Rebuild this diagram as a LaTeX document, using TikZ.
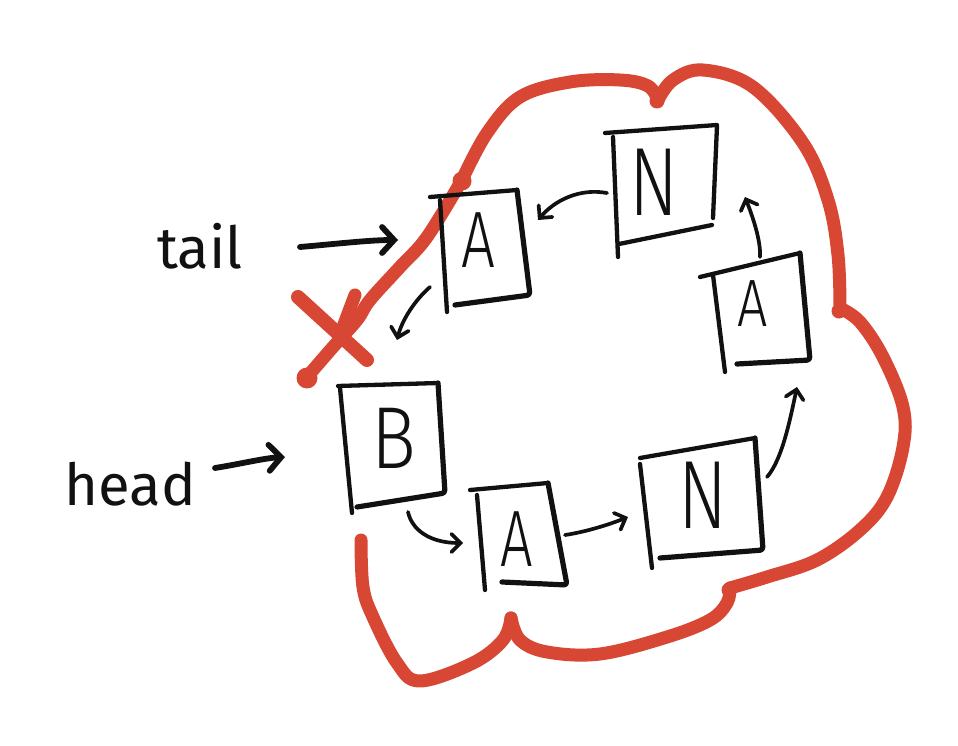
\documentclass[tikz,border=0pt]{standalone}
\usepackage{graphicx}
\usepackage{fontspec}
\newfontfamily\hand{Fira Sans Light}
\newfontfamily\handw{Fira Sans}
\usetikzlibrary{arrows.meta}
\definecolor{pen}{RGB}{216,70,52}
\definecolor{ink}{RGB}{17,17,17}
\tikzset{
  boxl/.style={draw=ink,line width=4.3pt,line cap=round,line join=round},
  boxb/.style={draw=ink,line width=5.2pt,line cap=round,line join=round,rounded corners=3pt},
  link/.style={draw=ink,line width=3.7pt,line cap=round,
    -{Straight Barb[length=9pt,width=18pt,line cap=round]}},
  ptr/.style={draw=ink,line width=5.8pt,line cap=round,
    -{Straight Barb[length=12pt,width=26pt,line cap=round]}},
  redline/.style={draw=pen,line width=13pt,line cap=round,line join=round},
  letter/.style={inner sep=0pt,text=ink,font=\hand},
  word/.style={inner sep=0pt,text=ink,font=\handw\fontsize{58}{58}\selectfont},
}
\begin{document}
\begin{tikzpicture}[x=1pt,y=-1pt]
\useasboundingbox[fill=white] (0,0) rectangle (958,746);

% red cloud
\draw[redline] plot[smooth,tension=0.6] coordinates {(462,180) (487,133) (520,97) (570,82) (620,80) (648,86) (658,100)};
\draw[redline] plot[smooth,tension=0.6] coordinates {(658,100) (673,80) (703,70) (753,87) (803,143) (828,200) (838,255) (840,308)};
\draw[redline] plot[smooth,tension=0.6] coordinates {(840,308) (860,322) (883,357) (903,407) (903,447) (887,497) (860,530) (817,560) (767,577) (730,588)};
\draw[redline] plot[smooth,tension=0.6] coordinates {(730,588) (727,603) (710,620) (667,637) (600,654) (547,652) (520,640) (511,618)};
\draw[redline] plot[smooth,tension=0.6] coordinates {(511,618) (503,640) (473,663) (420,681) (397,663) (373,617) (363,587) (361,540)};
\draw[redline] plot[smooth,tension=0.6] coordinates {(462,180) (427,237) (400,267) (370,300) (357,320) (333,347) (307,377)};
\fill[pen] (462,181) circle (9.5pt);
\fill[pen] (307,378) circle (10.5pt);
\fill[pen] (657,101) circle (7.5pt);
\fill[pen] (839,311) circle (7.5pt);
\fill[pen] (729,590) circle (7.5pt);
% the cross
\draw[redline,line width=14pt] (298,297) -- (367,360);
\draw[redline,line width=13pt] (355,295) -- (340,335);

% boxes
% B
\draw[boxl] (338,386) -- (438,383);
\draw[boxb] (438,383) -- (445,493) -- (357,507);
\draw[boxl] (340,388) -- (352,513);
% A (tail)
\draw[boxl] (430,197) -- (517,190);
\draw[boxb] (517,190) -- (530,295) -- (455,305);
\draw[boxl] (440,200) -- (447,312);
% N (top)
\draw[boxl] (605,133) -- (717,125);
\draw[boxl] (717,126) -- (713,218);
\draw[boxl] (712,225) -- (619,244);
\draw[boxl] (613,137) -- (618,257);
% A (right)
\draw[boxl] (700,277) -- (800,253);
\draw[boxb] (800,253) -- (810,360) -- (737,364);
\draw[boxl] (713,275) -- (725,372);
% N (bottom)
\draw[boxl] (640,458) -- (755,438);
\draw[boxb] (755,438) -- (763,550) -- (660,558);
\draw[boxl] (640,464) -- (652,568);
% A (bottom)
\draw[boxl] (470,490) -- (548,483);
\draw[boxb] (548,483) -- (567,585) -- (502,582);
\draw[boxl] (477,495) -- (485,590);

% letters
\node[letter] (b)  at (394,438) {\scalebox{0.85}[1]{\fontsize{88}{88}\selectfont B}};
\node[letter] (a1) at (478,240) {\scalebox{0.75}[1]{\fontsize{80}{80}\selectfont A}};
\node[letter] (n1) at (654,182) {\scalebox{0.75}[1]{\fontsize{97}{97}\selectfont N}};
\node[letter] (a2) at (753,304) {\scalebox{0.8}[1]{\fontsize{67}{67}\selectfont A}};
\node[letter] (n2) at (703,495) {\scalebox{0.75}[1]{\fontsize{97}{97}\selectfont N}};
\node[letter] (a3) at (517,539) {\scalebox{0.72}[1]{\fontsize{80}{80}\selectfont A}};

\node[word,anchor=base] (tail) at (200,268) {tail};
\node[word,anchor=base] (head) at (130,505) {head};

% connector ends
\coordinate (ts) at (300,247); \coordinate (te) at (398,240);
\coordinate (hs) at (215,468); \coordinate (he) at (285,457);
\coordinate (a1o) at (430,287); \coordinate (bi) at (397,340);
\coordinate (bo) at (408,512); \coordinate (a3i) at (463,543);
\coordinate (a3o) at (565,535); \coordinate (n2i) at (628,517);
\coordinate (n2o) at (767,477); \coordinate (a2i) at (797,387);
\coordinate (a2o) at (760,257); \coordinate (n1i) at (745,197);
\coordinate (n1o) at (607,193); \coordinate (a1i) at (538,220);

% connectors
\draw[ptr] (ts) .. controls (335,244) and (370,240) .. (te);
\draw[ptr] (hs) .. controls (240,464) and (265,458) .. (he);
\draw[link] (a1o) .. controls (415,300) and (402,320) .. (bi);
\draw[link] (bo) .. controls (412,530) and (430,543) .. (a3i);
\draw[link] (a3o) .. controls (585,532) and (608,525) .. (n2i);
\draw[link] (n2o) .. controls (782,460) and (790,420) .. (a2i);
\draw[link] (a2o) .. controls (761,240) and (752,215) .. (n1i);
\draw[link] (n1o) .. controls (580,188) and (555,200) .. (a1i);
\end{tikzpicture}
\end{document}
